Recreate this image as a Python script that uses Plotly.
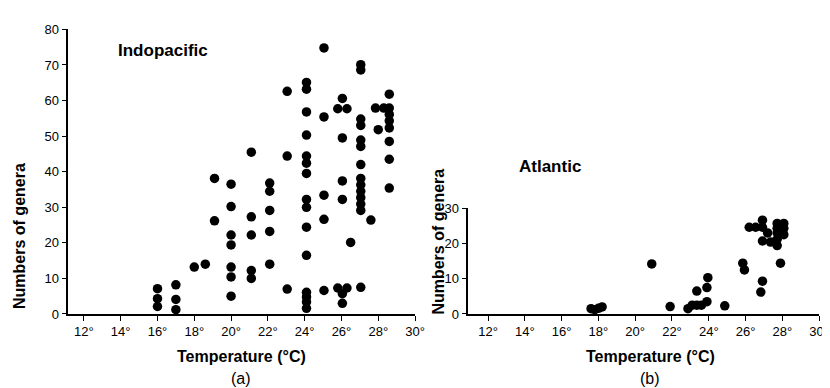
import plotly.graph_objects as go

# Indopacific (a)
indo_temp = [16, 16, 16, 17, 17, 17, 18.0, 18.6, 19.1, 19.1,
             20, 20, 20, 20, 20, 20, 20,
             21.1, 21.1, 21.1, 21.1, 21.1,
             22.1, 22.1, 22.1, 22.1, 22.1,
             23.05, 23.05, 23.05,
             24.1, 24.1, 24.1, 24.1, 24.1, 24.1, 24.1, 24.1, 24.1, 24.1, 24.1, 24.1, 24.1, 24.1, 24.1,
             25.05, 25.05, 25.05, 25.05, 25.05,
             25.8, 25.8,
             26.05, 26.05, 26.05, 26.05, 26.05, 26.05,
             26.3, 26.3, 26.5,
             27.05, 27.05, 27.05, 27.05, 27.05, 27.05, 27.05, 27.05, 27.05, 27.05, 27.05, 27.05, 27.05, 27.05,
             27.6, 27.85, 28.0, 28.3,
             28.6, 28.6, 28.6, 28.6, 28.6, 28.6, 28.6, 28.6]
indo_genera = [7.1, 4.3, 2.1, 8.2, 4.1, 1.2, 13.2, 14.0, 38.1, 26.2,
               36.5, 30.2, 22.2, 19.4, 13.2, 10.4, 5.0,
               45.5, 27.3, 22.2, 12.2, 10.0,
               36.8, 34.5, 29.1, 23.2, 14.0,
               62.6, 44.4, 7.0,
               65.1, 63.2, 56.8, 50.3, 44.4, 42.4, 39.5, 32.2, 30.0, 24.4, 16.5, 6.1, 4.8, 3.4, 1.6,
               74.8, 55.4, 33.4, 26.6, 6.6,
               57.7, 7.3,
               60.6, 49.5, 37.4, 32.2, 5.7, 3.0,
               57.7, 7.3, 20.1,
               70.1, 68.6, 54.8, 53.0, 48.9, 47.1, 42.0, 38.1, 36.3, 34.5, 32.7, 30.9, 29.1, 7.5,
               26.4, 57.9, 51.8, 57.9,
               61.8, 57.9, 56.1, 54.3, 52.3, 48.5, 43.5, 35.4]

# Atlantic (b)
atl_temp = [17.6, 17.8, 18.0, 18.2, 20.9, 21.9, 22.87, 23.1, 23.35, 23.6, 23.35, 23.9, 23.9, 23.95,
            24.87, 25.85, 25.94, 26.2, 26.55, 26.92, 26.92, 26.92, 26.92, 26.83, 27.2, 27.36,
            27.72, 27.72, 27.72, 27.72, 27.72, 28.08, 28.08, 28.08, 27.9]
atl_genera = [1.5, 1.2, 1.6, 2.0, 14.2, 2.1, 1.5, 2.5, 2.5, 2.5, 6.5, 3.5, 7.5, 10.3,
              2.3, 14.4, 12.5, 24.6, 24.6, 26.6, 24.6, 20.7, 9.3, 6.2, 23.0, 20.4,
              25.7, 24.3, 23.0, 21.2, 19.4, 25.7, 24.3, 22.5, 14.4]

x_ticks = [12, 14, 16, 18, 20, 22, 24, 26, 28, 30]
x_ticktext = [f"{t}°" for t in x_ticks]
y_ticks_a = [0, 10, 20, 30, 40, 50, 60, 70, 80]
y_ticks_b = [0, 10, 20, 30]

W, H = 830, 388
FONT = "Liberation Sans"

fig = go.Figure()
mk = dict(color="black", size=9.5)
fig.add_trace(go.Scatter(x=indo_temp, y=indo_genera, mode="markers", marker=mk,
                         xaxis="x", yaxis="y", showlegend=False, cliponaxis=False))
fig.add_trace(go.Scatter(x=atl_temp, y=atl_genera, mode="markers", marker=mk,
                         xaxis="x2", yaxis="y2", showlegend=False, cliponaxis=False))

def px_x(p):
    return p / W

def px_y(p):
    return (H - p) / H

axis_common = dict(showline=True, linecolor="black", linewidth=1.5, ticks="outside",
                   ticklen=5, tickwidth=1.2, tickcolor="black", showgrid=False, zeroline=False,
                   tickfont=dict(family=FONT, size=13, color="black"))

fig.update_layout(
    width=W, height=H, margin=dict(l=0, r=0, t=0, b=0),
    plot_bgcolor="white", paper_bgcolor="white",
    xaxis=dict(domain=[px_x(61), px_x(412)], range=[11.15, 30], tickvals=x_ticks,
               ticktext=x_ticktext, anchor="y", **axis_common),
    yaxis=dict(domain=[px_y(311), px_y(15)], range=[0, 80], tickvals=y_ticks_a,
               anchor="x", **axis_common),
    xaxis2=dict(domain=[px_x(466), px_x(821)], range=[10.93, 30], tickvals=x_ticks,
                ticktext=x_ticktext, anchor="y2", **axis_common),
    yaxis2=dict(domain=[px_y(311), px_y(201)], range=[0, 30], tickvals=y_ticks_b,
                anchor="x2", **axis_common),
)

def ann(text, x, y, size, bold=False, angle=0):
    fig.add_annotation(text=text, x=px_x(x), y=px_y(y), xref="paper", yref="paper",
                       showarrow=False, textangle=angle, xanchor="center", yanchor="middle",
                       font=dict(family=FONT, size=size, color="black",
                                 weight="bold" if bold else "normal"))

ann("Indopacific", 157, 37, 17, bold=True)
ann("Atlantic", 549, 158, 17, bold=True)
ann("Numbers of genera", 11, 230, 16, bold=True, angle=-90)
ann("Numbers of genera", 436, 236, 16, bold=True, angle=-90)
ann("Temperature (°C)", 236, 355, 16, bold=True)
ann("Temperature (°C)", 650, 355, 16, bold=True)
ann("(a)", 236, 378, 16)
ann("(b)", 650, 378, 16)

fig.write_html("out.html")
